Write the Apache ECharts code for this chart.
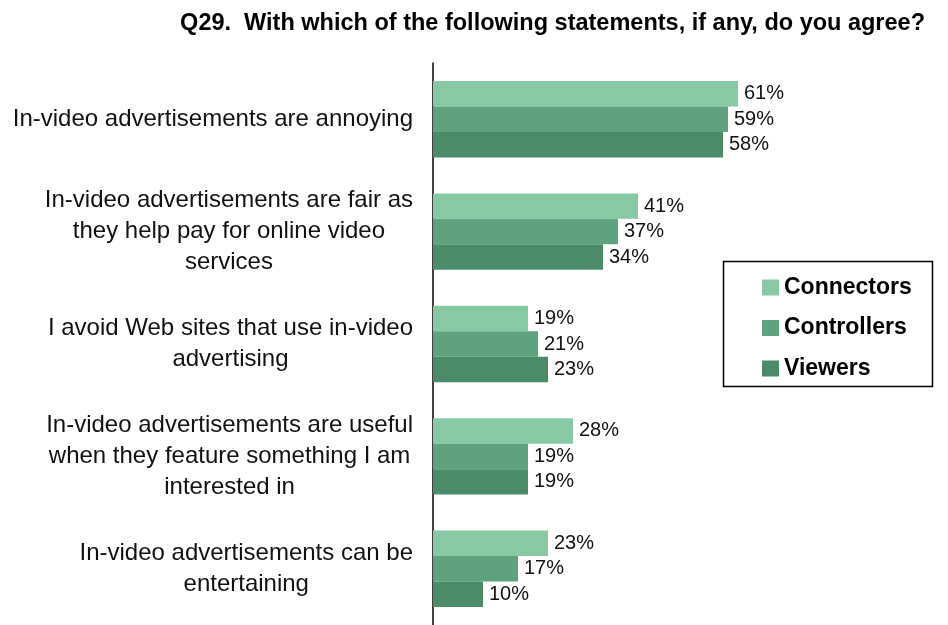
<!DOCTYPE html>
<html>
<head>
<meta charset="utf-8">
<script src="https://cdn.jsdelivr.net/npm/echarts@6/dist/echarts.min.js"></script>
<style>
  html, body { margin: 0; padding: 0; background: #fff; }
  #chart { width: 948px; height: 625px; }
</style>
</head>
<body>
<div id="chart"></div>
<script>
// Survey statements (top to bottom)
var statements = [
  'In-video advertisements are annoying',
  'In-video advertisements are fair as\nthey help pay for online video\nservices',
  'I avoid Web sites that use in-video\nadvertising',
  'In-video advertisements are useful\nwhen they feature something I am\ninterested in',
  'In-video advertisements can be\nentertaining'
];
var segmentNames = ['Connectors', 'Controllers', 'Viewers'];
var connectors = [61, 41, 19, 28, 23];
var controllers = [59, 37, 21, 19, 17];
var viewers = [58, 34, 23, 19, 10];

var seriesValues = [connectors, controllers, viewers];
var colors = ['#88C9A4', '#5FA27D', '#4B8B67'];
var FONT = 'Liberation Sans, Arial, sans-serif';

var chart = echarts.init(document.getElementById('chart'), null, { renderer: 'canvas' });

var series = segmentNames.map(function (name, i) {
  return {
    name: name,
    type: 'bar',
    data: seriesValues[i],
    itemStyle: { color: colors[i] },
    barGap: '0%',
    barCategoryGap: '32%',
    label: {
      show: true,
      position: 'right',
      distance: 6,
      formatter: '{c}%',
      color: '#111',
      fontFamily: FONT,
      fontSize: 20
    }
  };
});

chart.setOption({
  animation: false,
  backgroundColor: '#fff',
  title: {
    text: 'Q29.  With which of the following statements, if any, do you agree?',
    right: 18,
    top: 7,
    padding: [5, 5, 5, 5],
    textStyle: { fontFamily: FONT, fontSize: 23.5, fontWeight: 'bold', color: '#000' }
  },
  legend: {
    orient: 'vertical',
    left: 762,
    top: 276,
    padding: 0,
    icon: 'rect',
    itemWidth: 17,
    itemHeight: 16,
    itemGap: 17.5,
    data: segmentNames,
    textStyle: { fontFamily: FONT, fontSize: 23, fontWeight: 'bold', color: '#000' }
  },
  graphic: [{
    type: 'rect',
    shape: { x: 723.5, y: 261.5, width: 209, height: 125 },
    style: { fill: 'none', stroke: '#000', lineWidth: 1.5 },
    z: 10
  }],
  grid: { left: 433, top: 63, height: 566, right: 15 },
  xAxis: {
    type: 'value',
    min: 0,
    max: 100,
    show: false
  },
  yAxis: {
    type: 'category',
    inverse: true,
    data: statements,
    axisLine: { show: true, lineStyle: { color: '#000', width: 1.5 } },
    axisTick: { show: false },
    axisLabel: {
      margin: 20,
      align: 'right',
      color: '#111',
      fontFamily: FONT,
      fontSize: 24,
      lineHeight: 31,
      formatter: function (v) {
        return v.split('\n').map(function (l) { return '{c|' + l + '}'; }).join('\n');
      },
      rich: {
        c: { align: 'center', fontFamily: FONT, fontSize: 24, lineHeight: 31, color: '#111' }
      }
    }
  },
  series: series
});
</script>
</body>
</html>
